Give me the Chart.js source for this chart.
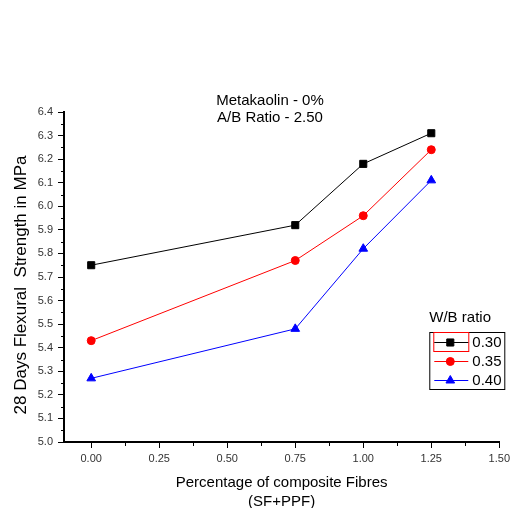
<!DOCTYPE html>
<html lang="en">

<head>
    <meta charset="UTF-8">
    <title>Flexural Strength</title>
    <style>
        body { margin: 0; background: #fff; }
        #wrap { width: 514px; height: 508px; }
    </style>
</head>

<body>
    <div id="wrap">
        <canvas id="flexural"></canvas>
    </div>

    <script src="https://cdn.jsdelivr.net/npm/chart.js"></script>
    <script>

        // data
        const fibre = [0, 0.75, 1.00, 1.25];
        const wb030 = [5.75, 5.92, 6.18, 6.31];
        const wb035 = [5.43, 5.77, 5.96, 6.24];
        const wb040 = [5.27, 5.48, 5.82, 6.11];

        const seriesLabels = ['0.30', '0.35', '0.40'];
        const xTicks = [0, 0.25, 0.5, 0.75, 1.0, 1.25, 1.5];
        const yTicks = [5.0, 5.1, 5.2, 5.3, 5.4, 5.5, 5.6, 5.7, 5.8, 5.9, 6.0, 6.1, 6.2, 6.3, 6.4];

        const FONT = '"Liberation Sans", Arial, sans-serif';

        function toPoints(ys) {
            return ys.map((y, i) => ({ x: fibre[i], y: y }));
        }

        // minor ticks, inner notes, y title and the legend box
        const extras = {
            id: 'extras',
            afterDraw(chart) {
                const ctx = chart.ctx;
                const xs = chart.scales.x;
                const ys = chart.scales.y;
                const ca = chart.chartArea;

                ctx.save();
                ctx.strokeStyle = '#000';
                ctx.lineWidth = 1;
                ctx.beginPath();
                for (let i = 0; i < yTicks.length - 1; i++) {
                    const py = Math.round(ys.getPixelForValue((yTicks[i] + yTicks[i + 1]) / 2)) + 0.5;
                    ctx.moveTo(ca.left - 3, py);
                    ctx.lineTo(ca.left, py);
                }
                for (let i = 0; i < xTicks.length - 1; i++) {
                    const px = Math.round(xs.getPixelForValue((xTicks[i] + xTicks[i + 1]) / 2)) + 0.5;
                    ctx.moveTo(px, ca.bottom);
                    ctx.lineTo(px, ca.bottom + 4);
                }
                ctx.stroke();

                // note inside the plot
                ctx.fillStyle = '#000';
                ctx.font = '15px ' + FONT;
                ctx.textAlign = 'center';
                ctx.textBaseline = 'middle';
                ctx.fillText('Metakaolin - 0%', 270, 101);
                ctx.fillText('A/B Ratio - 2.50', 270, 118);

                // y axis title
                ctx.save();
                ctx.font = '17px ' + FONT;
                ctx.translate(21, 285);
                ctx.rotate(-Math.PI / 2);
                ctx.fillText('28 Days Flexural  Strength in MPa', 0, 0);
                ctx.restore();

                // legend
                const bx = ca.right - 70, by = ca.top + 220;
                ctx.textAlign = 'left';
                ctx.fillText('W/B ratio', bx, by - 14);
                ctx.strokeStyle = '#000';
                ctx.strokeRect(bx + 0.5, by + 0.5, 75, 57);
                ctx.strokeStyle = '#ff0000';
                ctx.strokeRect(bx + 4.5, by + 0.5, 35, 19);

                chart.data.datasets.forEach((ds, i) => {
                    const ly = by + 10 + i * 19;
                    ctx.strokeStyle = ds.borderColor;
                    ctx.fillStyle = ds.backgroundColor;
                    ctx.lineWidth = 1;
                    ctx.beginPath();
                    ctx.moveTo(bx + 5, ly + 0.5);
                    ctx.lineTo(bx + 39, ly + 0.5);
                    ctx.stroke();
                    Chart.helpers.drawPoint(ctx, {
                        pointStyle: ds.pointStyle,
                        radius: ds.pointRadius,
                        borderWidth: 1
                    }, bx + 21, ly + 0.5);
                    ctx.fillStyle = '#000';
                    ctx.fillText(ds.label, bx + 43, ly + 1);
                });
                ctx.restore();
            }
        };

        const config = {
            type: 'line',
            data: {
                datasets: [{
                    label: seriesLabels[0],
                    data: toPoints(wb030),
                    borderColor: '#000000',
                    backgroundColor: '#000000',
                    borderWidth: 1,
                    pointStyle: 'rect',
                    pointRadius: 5,
                    pointBorderWidth: 1
                },
                {
                    label: seriesLabels[1],
                    data: toPoints(wb035),
                    borderColor: '#ff0000',
                    backgroundColor: '#ff0000',
                    borderWidth: 1,
                    pointStyle: 'circle',
                    pointRadius: 4,
                    pointBorderWidth: 1
                },
                {
                    label: seriesLabels[2],
                    data: toPoints(wb040),
                    borderColor: '#0000ff',
                    backgroundColor: '#0000ff',
                    borderWidth: 1,
                    pointStyle: 'triangle',
                    pointRadius: 5,
                    pointBorderWidth: 1
                }]
            },
            options: {
                responsive: false,
                animation: false,
                layout: { padding: { top: 112, right: 12, left: 0, bottom: 0 } },
                plugins: {
                    legend: { display: false },
                    tooltip: { enabled: false }
                },
                scales: {
                    x: {
                        type: 'linear',
                        min: -0.1,
                        max: 1.5,
                        afterFit: (s) => { s.height = 66; },
                        afterBuildTicks: (s) => { s.ticks = xTicks.map(v => ({ value: v })); },
                        border: { display: true, color: '#000', width: 2 },
                        grid: { drawOnChartArea: false, color: '#000', tickLength: 6, tickWidth: 1 },
                        ticks: {
                            padding: 4,
                            color: '#333',
                            font: { family: FONT, size: 11 },
                            maxRotation: 0,
                            callback: (v) => Number(v).toFixed(2)
                        },
                        title: {
                            display: true,
                            text: ['Percentage of composite Fibres', '(SF+PPF)'],
                            color: '#000',
                            font: { family: FONT, size: 15, lineHeight: '19px' },
                            padding: { top: 0, bottom: -3 }
                        }
                    },
                    y: {
                        min: 5.0,
                        max: 6.4,
                        afterFit: (s) => { s.width = 64; },
                        afterBuildTicks: (s) => { s.ticks = yTicks.map(v => ({ value: v })); },
                        border: { display: true, color: '#000', width: 2 },
                        grid: { drawOnChartArea: false, color: '#000', tickLength: 6, tickWidth: 1 },
                        ticks: {
                            padding: 5,
                            color: '#333',
                            font: { family: FONT, size: 11 },
                            callback: (v) => Number(v).toFixed(1)
                        }
                    }
                }
            },
            plugins: [extras]
        };

        const canvas = document.getElementById('flexural');
        canvas.width = 514;
        canvas.height = 508;

        const chart = new Chart(canvas, config);

    </script>
</body>

</html>
